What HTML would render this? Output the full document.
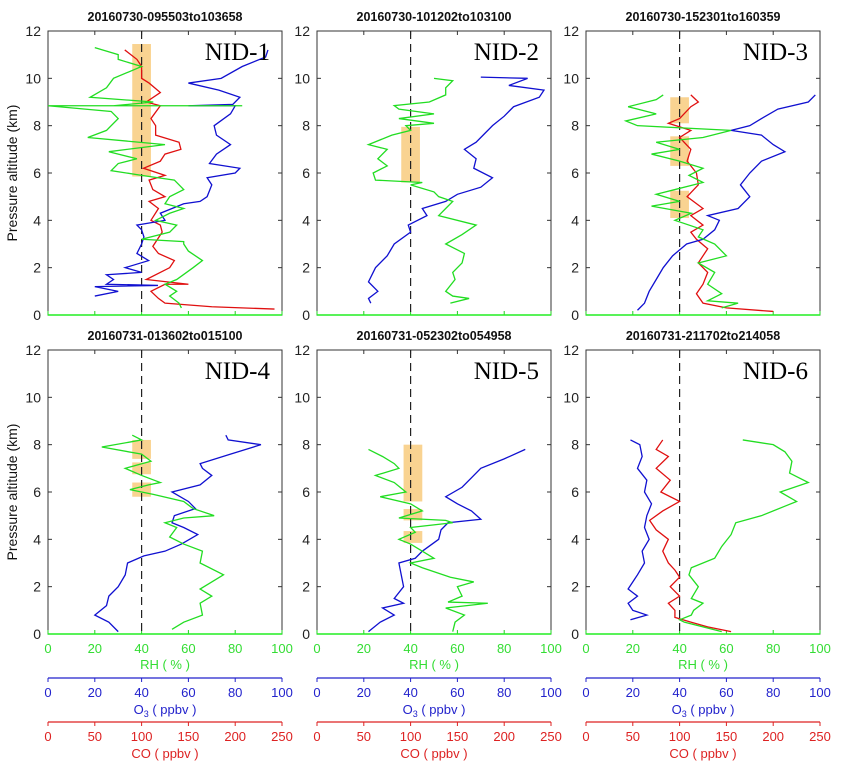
<!DOCTYPE html>
<html><head><meta charset="utf-8"><style>
body{margin:0;background:#fff;}
svg{display:block;font-family:"Liberation Sans",sans-serif;}
</style></head><body>
<svg id="fig" width="853" height="782"></svg>
<script>
const titles=["20160730-095503to103658","20160730-101202to103100","20160730-152301to160359","20160731-013602to015100","20160731-052302to054958","20160731-211702to214058"];
const nidLabels=["NID-1","NID-2","NID-3","NID-4","NID-5","NID-6"];
const yTicks=[0,2,4,6,8,10,12];
const rhTicks=[0,20,40,60,80,100];
const o3Ticks=[0,20,40,60,80,100];
const coTicks=[0,50,100,150,200,250];
// RH (%) profiles: [alt km, value]
const rh1=[[0.3,57],[0.5,56],[0.8,52],[1.0,55],[1.3,50],[1.5,55],[2.0,62],[2.3,66],[2.7,60],[3.0,58],[3.1,58],[3.2,40],[3.5,52],[3.8,55],[4.0,46],[4.3,52],[4.5,58],[4.7,50],[5.0,52],[5.3,58],[5.7,54],[5.9,40],[6.1,27],[6.4,30],[6.6,38],[6.9,26],[7.2,50],[7.5,17],[7.8,25],[8.3,30],[8.6,27],[8.84,0],[8.84,83],[8.84,28],[9.0,45],[9.2,18],[9.6,25],[10.0,28],[10.5,40],[10.8,30],[11.0,30],[11.3,20]];
const rh2=[[0.5,57],[0.7,65],[0.8,58],[1.0,55],[1.5,59],[1.8,58],[2.2,62],[2.6,63],[3.0,55],[3.4,62],[3.8,68],[4.2,52],[4.5,55],[4.8,58],[5.0,52],[5.2,50],[5.5,40],[5.6,45],[5.7,25],[6.0,24],[6.3,30],[6.6,26],[7.0,30],[7.2,22],[7.6,32],[7.8,40],[8.0,38],[8.1,50],[8.3,35],[8.5,50],[8.7,35],[8.85,33],[9.0,48],[9.3,55],[9.6,55],[9.9,58],[10.0,50]];
const rh3=[[0.3,58],[0.5,65],[0.6,52],[0.9,58],[1.3,52],[1.8,55],[2.2,48],[2.5,60],[3.0,55],[3.3,48],[3.6,50],[4.0,38],[4.3,45],[4.6,28],[4.8,40],[5.1,30],[5.3,38],[5.6,50],[5.9,44],[6.2,50],[6.5,40],[6.8,28],[7.0,40],[7.3,30],[7.5,50],[7.8,62],[8.0,22],[8.2,17],[8.5,30],[8.8,18],[9.1,30],[9.3,33]];
const rh4=[[0.2,53],[0.5,58],[0.8,66],[1.3,65],[1.6,70],[1.9,65],[2.2,70],[2.5,75],[3.0,65],[3.5,66],[3.8,58],[4.1,52],[4.5,55],[4.7,50],[4.9,58],[5.0,71],[5.3,62],[5.6,58],[5.9,45],[6.1,35],[6.3,43],[6.4,48],[6.7,40],[7.0,33],[7.3,44],[7.6,40],[7.9,23],[8.2,40],[8.4,36]];
const rh5=[[0.1,58],[0.5,59],[0.8,63],[1.1,55],[1.3,73],[1.35,56],[1.6,62],[2.0,60],[2.2,67],[2.4,57],[2.8,45],[3.0,40],[3.2,50],[3.5,45],[3.8,40],[4.0,35],[4.3,42],[4.5,40],[4.7,58],[4.8,55],[4.9,35],[5.2,45],[5.5,40],[5.8,27],[6.0,38],[6.4,33],[6.7,25],[7.0,35],[7.2,33],[7.5,28],[7.8,22]];
const rh6=[[0.1,58],[0.3,50],[0.5,42],[0.6,40],[0.8,45],[1.0,46],[1.3,50],[1.5,45],[2.0,48],[2.5,44],[2.8,45],[3.2,55],[3.7,58],[4.2,62],[4.7,64],[5.0,75],[5.4,85],[5.6,90],[6.0,83],[6.4,95],[6.8,87],[7.3,88],[7.7,85],[8.0,80],[8.2,67]];
// O3 (ppbv)
const o31=[[0.8,20],[1.0,30],[1.2,20],[1.25,47],[1.3,25],[1.5,28],[1.7,25],[1.8,40],[2.0,33],[2.3,43],[2.6,38],[3.0,40],[3.3,41],[3.6,40],[3.8,38],[4.0,50],[4.3,48],[4.7,58],[4.8,65],[5.0,68],[5.5,70],[5.8,68],[6.0,80],[6.2,82],[6.4,69],[6.8,72],[7.2,78],[7.6,72],[8.0,71],[8.5,78],[8.84,80],[8.84,60],[8.9,79],[9.2,82],[9.5,73],[9.8,60],[10.0,74],[10.5,83],[10.9,93],[11.2,94]];
const o32=[[0.5,23],[0.7,22],[1.0,26],[1.4,22],[2.0,25],[2.5,30],[3.0,33],[3.5,40],[3.8,39],[4.2,47],[4.5,45],[4.8,55],[5.1,60],[5.4,70],[5.8,75],[6.2,67],[6.6,68],[7.0,63],[7.3,68],[7.7,72],[8.0,75],[8.4,80],[8.8,84],[9.2,95],[9.5,97],[9.7,82],[10.0,90],[10.05,70]];
const o33=[[0.2,22],[0.5,25],[1.0,27],[1.5,30],[2.0,33],[2.5,37],[3.0,43],[3.2,50],[3.6,55],[4.0,57],[4.2,52],[4.5,65],[5.0,70],[5.5,66],[6.0,70],[6.5,75],[6.9,85],[7.2,80],[7.6,75],[7.8,62],[8.0,70],[8.3,75],[8.7,82],[9.0,95],[9.3,98]];
const o34=[[0.1,30],[0.5,26],[0.8,20],[1.2,25],[1.6,26],[2.0,30],[2.5,33],[3.0,34],[3.3,41],[3.5,50],[3.8,57],[4.2,64],[4.5,58],[4.7,53],[5.0,54],[5.3,63],[5.6,60],[6.0,53],[6.3,65],[6.7,70],[7.0,66],[7.2,65],[7.6,78],[8.0,91],[8.2,77],[8.4,76]];
const o35=[[0.1,22],[0.5,27],[0.8,33],[1.1,28],[1.3,37],[1.5,33],[2.0,37],[2.5,36],[3.0,35],[3.2,42],[3.5,45],[4.0,52],[4.4,53],[4.7,56],[4.85,70],[5.2,66],[5.5,60],[5.8,55],[6.2,62],[6.6,66],[7.0,70],[7.4,80],[7.8,89]];
const o36=[[0.6,19],[0.8,26],[1.0,20],[1.3,18],[1.6,22],[1.9,18],[2.5,22],[3.0,25],[3.5,24],[4.0,27],[4.5,25],[5.0,26],[5.5,28],[6.0,25],[6.5,26],[7.0,22],[7.5,24],[8.0,23],[8.2,19]];
// CO (ppbv)
const co1=[[0.25,242],[0.35,175],[0.5,125],[0.7,118],[1.0,110],[1.3,125],[1.3,150],[1.5,105],[2.0,130],[2.3,135],[2.6,118],[2.9,112],[3.5,122],[3.8,120],[4.0,110],[4.5,118],[4.8,108],[5.0,125],[5.3,112],[5.7,108],[5.9,125],[6.2,102],[6.5,120],[6.8,125],[7.0,142],[7.3,140],[7.6,115],[8.0,115],[8.3,110],[8.84,120],[9.0,105],[9.4,120],[9.8,108],[10.0,100],[10.5,100],[10.8,95],[11.2,82]];
const co3=[[0.15,200],[0.3,150],[0.5,125],[0.9,118],[1.3,125],[1.8,130],[2.2,120],[2.8,130],[3.2,118],[3.5,112],[3.8,125],[4.2,112],[4.5,125],[5.0,108],[5.5,120],[6.0,118],[6.5,108],[7.0,112],[7.5,100],[7.8,112],[8.1,88],[8.3,100],[8.8,112],[9.0,120],[9.3,112]];
const co6=[[0.1,155],[0.3,130],[0.5,112],[0.7,95],[1.0,95],[1.3,88],[1.6,100],[2.0,90],[2.4,100],[2.7,95],[3.0,88],[3.5,82],[4.0,88],[4.4,75],[4.8,68],[5.2,82],[5.6,100],[6.0,80],[6.5,90],[7.0,75],[7.5,88],[7.8,75],[8.2,82]];
// shaded layers: [altBottom, altTop, rhLeft, rhRight]
const bars1=[[5.85,11.45,36,44]];
const bars2=[[5.6,7.95,36,44]];
const bars3=[[8.1,9.2,36,44],[6.3,7.55,36,44],[4.1,5.25,36,44]];
const bars4=[[7.4,8.2,36,44],[6.75,7.25,36,44],[5.8,6.4,36,44]];
const bars5=[[5.6,8.0,37,45],[4.8,5.28,37,45],[3.85,4.35,37,45]];
const bars6=[];

const panels=[
 {rh:rh1,o3:o31,co:co1,bars:bars1},{rh:rh2,o3:o32,co:null,bars:bars2},{rh:rh3,o3:o33,co:co3,bars:bars3},
 {rh:rh4,o3:o34,co:null,bars:bars4},{rh:rh5,o3:o35,co:null,bars:bars5},{rh:rh6,o3:o36,co:co6,bars:bars6}];
const lefts=[48,317,586], tops=[31,350], W=234, H=284;
const NS="http://www.w3.org/2000/svg", svg=document.getElementById('fig');
function mk(tag,attrs,parent,text){const e=document.createElementNS(NS,tag);for(const k in attrs)e.setAttribute(k,attrs[k]);if(text!==undefined)e.textContent=text;(parent||svg).appendChild(e);return e;}
panels.forEach((p,i)=>{
 const x0=lefts[i%3], y0=tops[Math.floor(i/3)];
 const sx=v=>x0+v/100*W, sy=a=>y0+H-a/12*H;
 const g=mk('g',{});
 
 
 p.bars.forEach(b=>{const r=mk('rect',{x:sx(b[2]),y:sy(b[1]),width:sx(b[3])-sx(b[2]),height:sy(b[0])-sy(b[1]),fill:'#f7c46c','fill-opacity':0.75},g);
  
  });
 const fr=mk('rect',{x:x0,y:y0,width:W,height:H,fill:'none',stroke:'#333','stroke-width':1},g);
 
 
 yTicks.forEach(t=>{mk('line',{x1:x0,x2:x0+4,y1:sy(t),y2:sy(t),stroke:'#333'},g);mk('line',{x1:x0+W,x2:x0+W-4,y1:sy(t),y2:sy(t),stroke:'#333'},g);
  const tl=mk('text',{x:x0-7,y:sy(t)+5,'text-anchor':'end','font-size':14,fill:'#222'},g,t);
  
  });
 rhTicks.forEach(t=>{mk('line',{x1:sx(t),x2:sx(t),y1:y0,y2:y0+4,stroke:'#333'},g);mk('line',{x1:sx(t),x2:sx(t),y1:y0+H,y2:y0+H-4,stroke:'#2c2'},g);});
 mk('line',{x1:sx(40),x2:sx(40),y1:y0,y2:y0+H,stroke:'#222','stroke-dasharray':'8,5','stroke-width':1.2},g);
 const line=(data,scale,col,name)=>{const pl=mk('polyline',{points:data.map(d=>sx(d[1]*scale)+','+sy(d[0])).join(' '),fill:'none',stroke:col,'stroke-width':1.3},g);
  
  };
 if(p.co)line(p.co,0.4,'#e01010','co-profile');
 line(p.o3,1,'#1010d0','o3-profile');
 line(p.rh,1,'#22dd22','rh-profile');
 mk('line',{x1:x0,x2:x0+W,y1:y0+H,y2:y0+H,stroke:'#2e2','stroke-width':1.5},g);
 const tt=mk('text',{x:x0+W/2,y:y0-10,'text-anchor':'middle','font-size':12.5,'font-weight':'bold',fill:'#111'},g,titles[i]);
 
 
 const nl=mk('text',{x:x0+W-12,y:y0+29,'text-anchor':'end','font-size':25,'font-family':'Liberation Serif, serif',fill:'#000'},g,nidLabels[i]);
 
 
 if(i%3==0){const yt=mk('text',{x:0,y:0,transform:`translate(${x0-31},${y0+H/2}) rotate(-90)`,'text-anchor':'middle','font-size':14,fill:'#111'},g,'Pressure altitude (km)');
  
  }
});
// bottom axes for each column
lefts.forEach((x0,c)=>{
 const sx=v=>x0+v/100*W;
 const g=mk('g',{});
 
 
 rhTicks.forEach(t=>{mk('text',{x:sx(t),y:653,'text-anchor':'middle','font-size':13,fill:'#33dd33'},g,t);});
 mk('text',{x:sx(50),y:669,'text-anchor':'middle','font-size':13,fill:'#33dd33'},g,'RH ( % )');
 mk('line',{x1:x0,x2:x0+W,y1:678,y2:678,stroke:'#2222cc','stroke-width':1.2},g);
 o3Ticks.forEach(t=>{mk('line',{x1:sx(t),x2:sx(t),y1:678,y2:682,stroke:'#2222cc'},g);mk('text',{x:sx(t),y:697,'text-anchor':'middle','font-size':13,fill:'#2222cc'},g,t);});
 const o=mk('text',{x:sx(50),y:714,'text-anchor':'middle','font-size':13,fill:'#2222cc'},g);
 o.innerHTML='O<tspan font-size="9" dy="3">3</tspan><tspan dy="-3"> ( ppbv )</tspan>';
 mk('line',{x1:x0,x2:x0+W,y1:722,y2:722,stroke:'#dd2222','stroke-width':1.2},g);
 coTicks.forEach(t=>{const x=sx(t/2.5);mk('line',{x1:x,x2:x,y1:722,y2:726,stroke:'#dd2222'},g);mk('text',{x:x,y:741,'text-anchor':'middle','font-size':13,fill:'#dd2222'},g,t);});
 mk('text',{x:sx(50),y:758,'text-anchor':'middle','font-size':13,fill:'#dd2222'},g,'CO ( ppbv )');
});
</script>
</body></html>
